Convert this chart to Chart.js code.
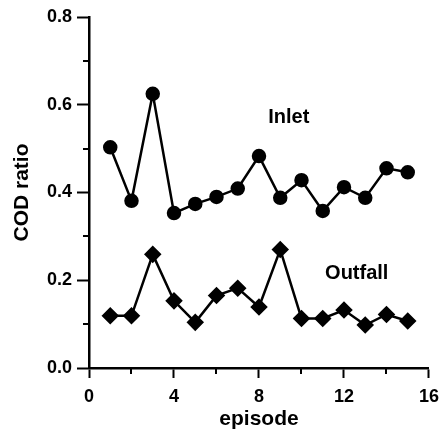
<!DOCTYPE html>
<html>
<head>
<meta charset="utf-8">
<script src="https://cdn.jsdelivr.net/npm/chart.js@4"></script>
<style>
  html, body { margin: 0; padding: 0; background: #fff; }
  #wrap { width: 447px; height: 429px; }
</style>
</head>
<body>
<div id="wrap"><canvas id="chart" width="447" height="429"></canvas></div>
<script>
// data
const episodes = [1, 2, 3, 4, 5, 6, 7, 8, 9, 10, 11, 12, 13, 14, 15];
const inlet = [0.503, 0.381, 0.625, 0.353, 0.374, 0.390, 0.409, 0.483, 0.388, 0.428, 0.358, 0.412, 0.388, 0.455, 0.446];
const outfall = [0.119, 0.119, 0.259, 0.153, 0.104, 0.165, 0.182, 0.139, 0.270, 0.113, 0.113, 0.132, 0.098, 0.122, 0.107];
const xMinorTicks = [2, 6, 10, 14];
const yMinorTicks = [0.1, 0.3, 0.5, 0.7];
const labels = [
    { text: "Inlet", x: 9.4, y: 0.57 },
    { text: "Outfall", x: 12.6, y: 0.215 }
];

const FONT = "'Liberation Sans', Arial, sans-serif";

function toPoints(values) {
    return episodes.map(function (e, i) { return { x: e, y: values[i] }; });
}

// small ticks between the labelled ones, plus the two series names
const extras = {
    id: "extras",
    afterDraw: function (chart) {
        const ctx = chart.ctx;
        const xs = chart.scales.x;
        const ys = chart.scales.y;
        ctx.save();
        ctx.strokeStyle = "#000";
        ctx.lineWidth = 2;
        xMinorTicks.forEach(function (v) {
            const px = Math.round(xs.getPixelForValue(v));
            ctx.beginPath();
            ctx.moveTo(px, ys.bottom);
            ctx.lineTo(px, ys.bottom + 6);
            ctx.stroke();
        });
        yMinorTicks.forEach(function (v) {
            const py = Math.round(ys.getPixelForValue(v));
            ctx.beginPath();
            ctx.moveTo(xs.left, py);
            ctx.lineTo(xs.left - 6, py);
            ctx.stroke();
        });
        ctx.fillStyle = "#000";
        ctx.font = "bold 20px " + FONT;
        ctx.textAlign = "center";
        ctx.textBaseline = "middle";
        labels.forEach(function (l) {
            ctx.fillText(l.text, xs.getPixelForValue(l.x), ys.getPixelForValue(l.y));
        });
        ctx.restore();
    }
};

new Chart(document.getElementById("chart").getContext("2d"), {
    type: "line",
    data: {
        datasets: [{
            label: "Inlet",
            data: toPoints(inlet),
            borderColor: "#000",
            backgroundColor: "#000",
            borderWidth: 2.5,
            pointStyle: "circle",
            pointRadius: 6,
            tension: 0
        }, {
            label: "Outfall",
            data: toPoints(outfall),
            borderColor: "#000",
            backgroundColor: "#000",
            borderWidth: 2.5,
            pointStyle: "rectRot",
            pointRadius: 7,
            tension: 0
        }]
    },
    options: {
        responsive: false,
        animation: false,
        layout: { padding: { top: 17, right: 0, bottom: 0, left: 10 } },
        plugins: {
            legend: { display: false },
            tooltip: { enabled: false }
        },
        scales: {
            x: {
                type: "linear",
                min: 0,
                max: 16,
                afterFit: function (s) { s.height = 61; },
                ticks: {
                    stepSize: 4,
                    color: "#000",
                    padding: 8,
                    font: { family: FONT, size: 18, weight: "bold" }
                },
                grid: { drawOnChartArea: false, drawTicks: true, tickLength: 10, tickWidth: 2, color: "#000" },
                border: { display: true, color: "#000", width: 2.5 },
                title: {
                    display: true,
                    text: "episode",
                    color: "#000",
                    padding: { top: 0, bottom: -3 },
                    font: { family: FONT, size: 21, weight: "bold" }
                }
            },
            y: {
                min: 0,
                max: 0.8,
                afterFit: function (s) { s.width = 79; },
                ticks: {
                    stepSize: 0.2,
                    color: "#000",
                    padding: 5,
                    callback: function (v) { return v.toFixed(1); },
                    font: { family: FONT, size: 18, weight: "bold" }
                },
                grid: { drawOnChartArea: false, drawTicks: true, tickLength: 12, tickWidth: 2, color: "#000" },
                border: { display: true, color: "#000", width: 2.5 },
                title: {
                    display: true,
                    text: "COD ratio",
                    color: "#000",
                    padding: 0,
                    font: { family: FONT, size: 21, weight: "bold" }
                }
            }
        }
    },
    plugins: [extras]
});
</script>
</body>
</html>
